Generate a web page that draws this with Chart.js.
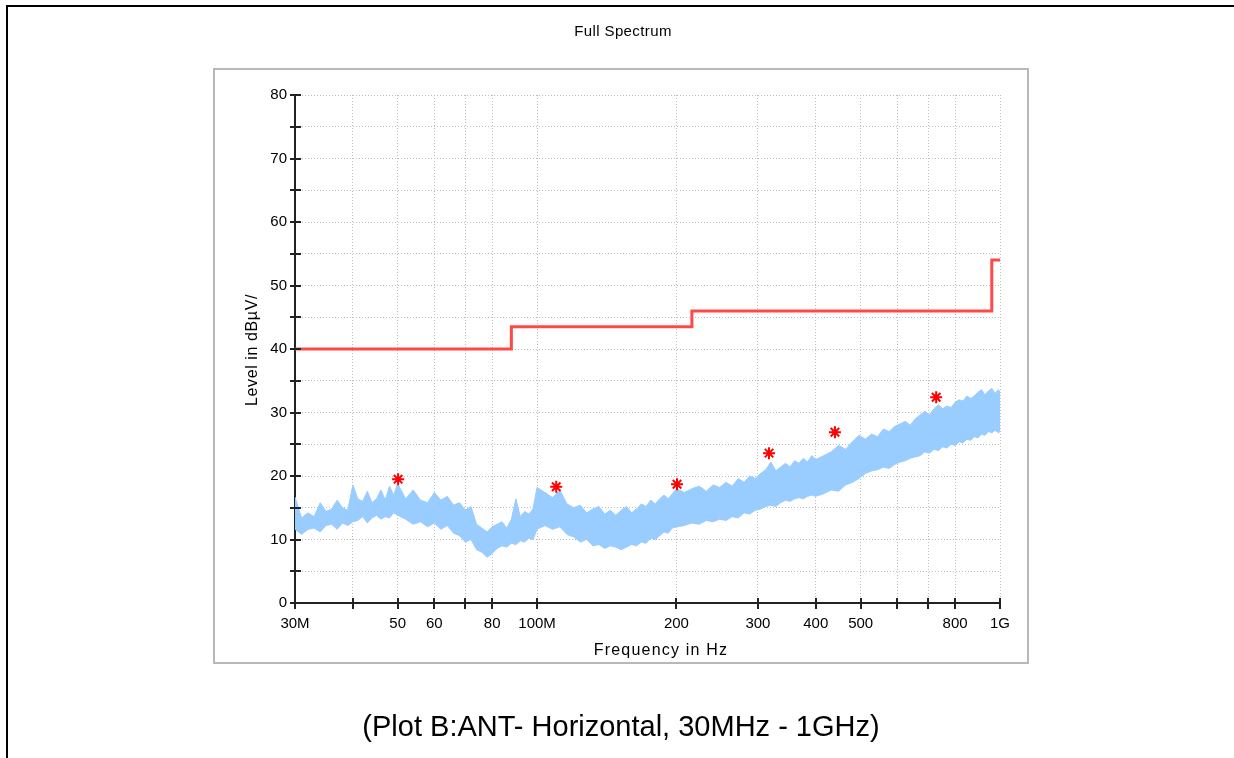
<!DOCTYPE html>
<html><head><meta charset="utf-8">
<script src="https://cdn.jsdelivr.net/npm/chart.js@4.4.0/dist/chart.umd.min.js"></script>
<style>html,body{margin:0;padding:0;background:#fff;}canvas{display:block;}</style>
</head><body>
<canvas id="c" width="1234" height="758"></canvas>
<script>
const freqMHz = [30,31,32,33,34,35,36,37,38,39,40,41,42,43,44,45,46,47,48,49,50,
52,54,56,58,60,62,64,66,68,70,72,74,76,78,80,82,84,86,88,90,92,94,96,98,100,
104,108,112,116,120,124,128,132,136,140,144,148,152,156,160,164,168,172,176,180,184,188,192,196,200,
208,216,224,232,240,248,256,264,272,280,288,296,304,312,320,328,336,344,352,360,368,376,384,392,400,
416,432,448,464,480,496,512,528,544,560,576,592,608,624,640,656,672,688,704,720,736,752,768,784,800,816,832,848,864,880,896,912,928,944,960,976,992,1000];
const traceHigh = [16.7,13.4,14.2,13.6,15.8,14.4,14.8,16.2,15.0,14.6,18.6,16.4,16.0,17.6,15.8,16.4,17.8,16.2,18.4,17.0,18.8,
16.4,17.8,16.2,15.8,17.4,16.2,16.8,15.4,15.8,14.6,15.2,12.4,11.8,11.2,12.0,12.4,12.8,11.8,13.2,16.4,13.6,14.4,14.0,14.8,18.2,
17.4,16.6,17.8,15.6,15.0,15.4,14.2,14.8,15.2,14.0,14.6,13.8,14.6,15.2,14.2,14.8,15.6,15.2,16.2,15.6,16.4,17.0,16.4,17.2,18.0,
17.4,18.0,18.4,17.6,18.6,18.2,19.0,18.4,19.6,19.0,20.0,19.6,20.4,21.0,22.2,20.8,21.4,22.0,21.4,22.4,22.0,22.8,22.2,23.2,22.6,
23.2,23.8,24.8,24.2,25.4,26.4,25.8,26.6,26.2,27.4,27.0,27.8,28.2,28.6,28.0,29.0,29.6,30.2,29.6,30.6,31.2,30.6,31.0,30.8,31.6,32.0,31.8,32.6,32.2,32.6,33.2,33.6,32.8,33.4,33.8,33.0,33.6,33.2];
const traceLow = [11.6,10.8,11.6,11.8,11.2,12.2,12.4,11.6,12.6,12.2,12.8,13.0,13.6,12.6,13.4,13.8,13.2,13.6,13.4,14.2,13.8,
13.2,12.4,12.8,12.0,12.6,11.6,12.2,11.0,10.6,9.6,10.0,8.4,8.0,7.2,7.8,8.6,9.0,8.8,9.4,9.2,9.8,9.6,10.2,10.0,11.6,
12.2,11.6,12.0,10.8,10.4,9.6,10.0,9.0,9.2,8.6,9.0,8.8,8.4,8.8,9.2,9.0,9.6,9.4,10.2,10.0,10.6,11.2,11.0,11.8,12.0,
12.2,12.6,12.4,13.0,12.8,13.2,13.0,13.6,13.4,14.2,14.0,14.6,14.8,15.2,15.4,15.2,15.8,16.2,16.0,16.4,16.6,16.4,16.8,17.0,16.8,
17.2,17.8,17.6,18.6,19.0,19.6,20.4,20.8,21.0,21.4,21.2,21.8,22.2,22.4,22.8,23.0,23.2,23.8,23.6,24.2,24.0,24.6,24.4,25.0,24.8,25.4,25.2,25.8,25.6,26.2,26.0,26.6,26.4,27.0,26.8,27.2,26.8,27.0];
const limitFreq = [30, 88, 88, 216, 216, 960, 960, 1000];
const limitLevel = [40, 40, 43.5, 43.5, 46, 46, 54, 54];
const peakFreq = [50.1, 110, 200.6, 317, 440, 728];
const peakLevel = [19.5, 18.3, 18.7, 23.6, 26.9, 32.4];
const xTickValues = [30,40,50,60,70,80,100,200,300,400,500,600,700,800,1000];
const xTickLabels = ['30M','','50','60','','80','100M','200','300','400','500','','','800','1G'];
const yTickValues = [0,5,10,15,20,25,30,35,40,45,50,55,60,65,70,75,80];
const yTickLabels = ['0','','10','','20','','30','','40','','50','','60','','70','','80'];

const FONT = '"Liberation Sans", Arial, sans-serif';
const pts = (xs, ys) => xs.map((x, i) => ({x, y: ys[i]}));

const decor = {
  id: 'decor',
  beforeDraw(chart) {
    const ctx = chart.ctx;
    ctx.save();
    ctx.fillStyle = '#fff';
    ctx.fillRect(0, 0, chart.width, chart.height);
    ctx.fillStyle = '#000';
    ctx.fillRect(6, 5, 1228, 2);
    ctx.fillRect(6, 5, 2, 753);
    ctx.strokeStyle = '#b8b8b8';
    ctx.lineWidth = 2;
    ctx.strokeRect(214, 69, 814, 594);
    ctx.restore();
  },
  afterDraw(chart) {
    const {ctx, scales: {x, y}, chartArea: a} = chart;
    ctx.save();
    ctx.strokeStyle = '#222';
    ctx.lineWidth = 2;
    ctx.beginPath();
    yTickValues.forEach(v => { const p = Math.round(y.getPixelForValue(v)); ctx.moveTo(a.left - 5, p); ctx.lineTo(a.left + 6, p); });
    xTickValues.forEach(v => { const p = Math.round(x.getPixelForValue(v)); ctx.moveTo(p, a.bottom - 5); ctx.lineTo(p, a.bottom + 6); });
    ctx.stroke();
    ctx.fillStyle = '#000';
    ctx.textAlign = 'center';
    ctx.textBaseline = 'middle';
    ctx.font = '15px ' + FONT;
    ctx.letterSpacing = '0.4px';
    ctx.fillText('Full Spectrum', 623, 32);
    ctx.font = '16px ' + FONT;
    ctx.letterSpacing = '1.2px';
    ctx.fillText('Frequency in Hz', 661, 651);
    ctx.letterSpacing = '0.6px';
    ctx.save();
    ctx.translate(253, 350);
    ctx.rotate(-Math.PI / 2);
    ctx.fillText('Level in dB\u00b5V/', 0, 0);
    ctx.restore();
    ctx.letterSpacing = '0px';
    ctx.font = '29px ' + FONT;
    ctx.fillText('(Plot B:ANT- Horizontal, 30MHz - 1GHz)', 621, 728);
    ctx.restore();
  }
};

new Chart(document.getElementById('c'), {
  type: 'scatter',
  data: {
    datasets: [
      {label: 'Peaks', data: pts(peakFreq, peakLevel), showLine: false, pointStyle: 'star', pointRadius: 6, borderColor: '#ff0000', backgroundColor: '#ff0000', borderWidth: 2},
      {label: 'Limit', data: pts(limitFreq, limitLevel), showLine: true, pointRadius: 0, borderColor: '#ff4848', borderWidth: 3, fill: false},
      {label: 'TraceLow', data: pts(freqMHz, traceLow), showLine: true, pointRadius: 0, borderColor: '#99ccff', borderWidth: 1, fill: false},
      {label: 'TraceHigh', data: pts(freqMHz, traceHigh), showLine: true, pointRadius: 0, borderColor: '#99ccff', backgroundColor: '#99ccff', borderWidth: 1, fill: '-1'}
    ]
  },
  options: {
    responsive: false, animation: false, devicePixelRatio: 1,
    layout: {padding: {left: 213, right: 234, top: 95, bottom: 95}},
    plugins: {legend: {display: false}, tooltip: {enabled: false}, title: {display: false}},
    scales: {
      x: {
        type: 'logarithmic', min: 30, max: 1000,
        afterBuildTicks: s => { s.ticks = xTickValues.map(v => ({value: v})); },
        afterFit: s => { s.height = 60; },
        ticks: {autoSkip: false, maxRotation: 0, padding: 12, color: '#000', font: {family: FONT, size: 15},
          callback: (v) => { const i = xTickValues.indexOf(v); return i >= 0 ? xTickLabels[i] : ''; }},
        grid: {color: '#bdbdbd', lineWidth: 1, drawTicks: false},
        border: {display: true, color: '#222', width: 2, dash: [1, 2]}
      },
      y: {
        type: 'linear', min: 0, max: 80,
        afterBuildTicks: s => { s.ticks = yTickValues.map(v => ({value: v})); },
        afterFit: s => { s.width = 82; },
        ticks: {autoSkip: false, padding: 8, color: '#000', font: {family: FONT, size: 15},
          callback: (v) => { const i = yTickValues.indexOf(v); return i >= 0 ? yTickLabels[i] : ''; }},
        grid: {color: '#bdbdbd', lineWidth: 1, drawTicks: false},
        border: {display: true, color: '#222', width: 2, dash: [1, 2]}
      }
    }
  },
  plugins: [decor]
});
</script>
</body></html>
